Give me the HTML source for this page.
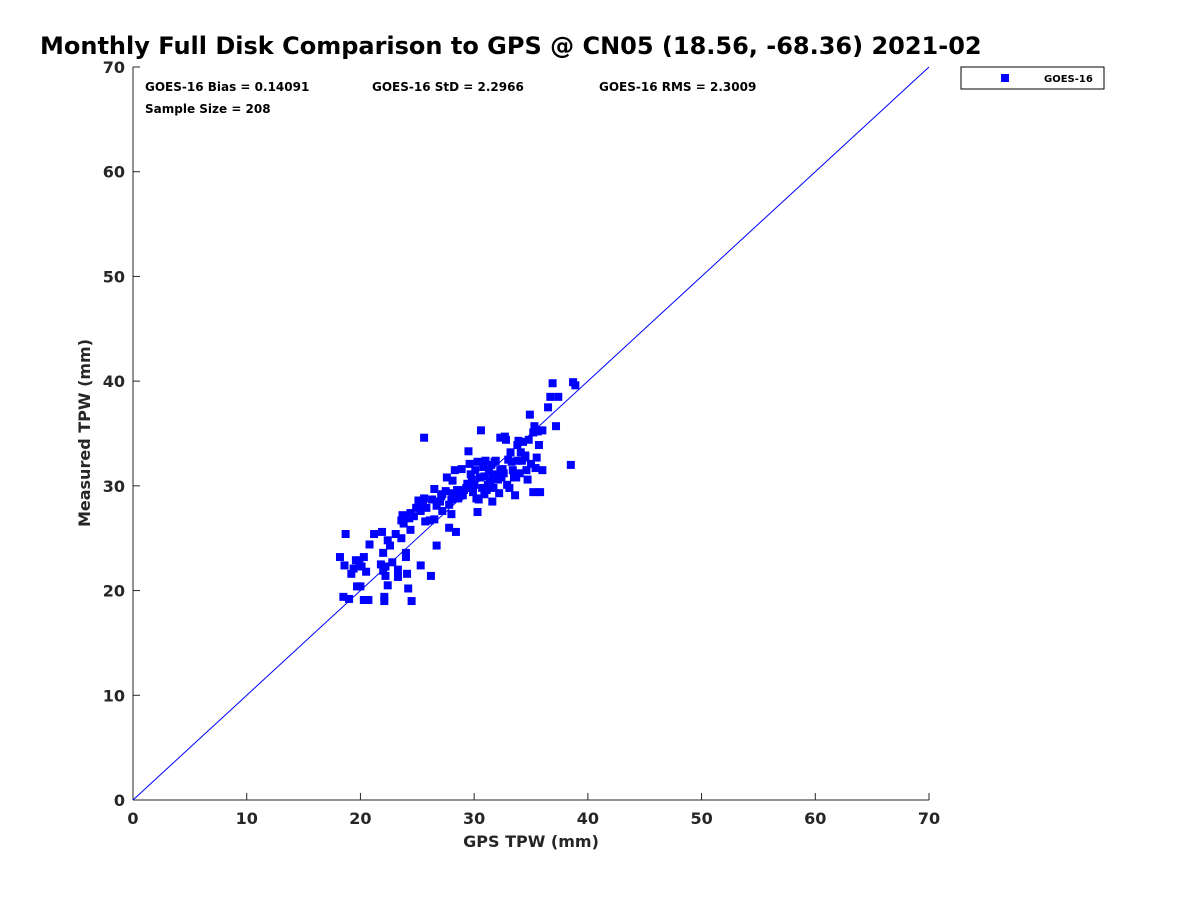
<!DOCTYPE html>
<html><head><meta charset="utf-8"><style>
body{margin:0;background:#fff;font-family:"Liberation Sans",sans-serif}
svg text{font-family:"DejaVu Sans","Liberation Sans",sans-serif}
</style></head><body>
<svg id="chart" width="1200" height="900">
<text x="40" y="54" font-size="24" font-weight="bold">Monthly Full Disk Comparison to GPS @ CN05 (18.56, -68.36) 2021-02</text>
<g id="axes"></g>
<g id="marks"></g>
<text x="145" y="91" font-size="12" font-weight="bold">GOES-16 Bias = 0.14091</text>
<text x="372" y="91" font-size="12" font-weight="bold">GOES-16 StD = 2.2966</text>
<text x="599" y="91" font-size="12" font-weight="bold">GOES-16 RMS = 2.3009</text>
<text x="145" y="113" font-size="12" font-weight="bold">Sample Size = 208</text>
<g>
<rect x="961" y="67" width="143" height="22" fill="#fff" stroke="#000" stroke-width="1"/>
<rect x="1001" y="74" width="8" height="8" fill="#0000ff"/>
<text x="1044" y="82" font-size="10" font-weight="bold">GOES-16</text>
</g>
<text x="531" y="847" font-size="16" font-weight="bold" fill="#262626" text-anchor="middle">GPS TPW (mm)</text>
<text transform="translate(90,433) rotate(-90)" font-size="16" font-weight="bold" fill="#262626" text-anchor="middle">Measured TPW (mm)</text>
</svg>
<script>
const ticks=[0,10,20,30,40,50,60,70];
const gpsX=[18.2,18.7,18.6,18.5,19.0,19.2,19.4,19.6,19.7,19.9,20.0,20.1,20.3,20.3,20.5,20.7,20.8,21.2,21.9,21.8,22.0,22.1,22.1,22.0,22.2,22.2,22.4,22.4,22.6,22.8,23.1,23.3,23.3,23.6,23.6,23.7,23.8,24.0,24.0,24.1,24.2,24.4,24.5,24.3,24.4,24.7,24.9,25.1,25.3,25.3,25.5,25.6,25.6,25.8,25.7,26.1,26.2,26.3,26.5,26.5,26.7,26.7,27.0,27.1,27.2,27.2,27.5,27.6,27.8,27.8,28.0,28.0,28.1,28.1,28.3,28.4,28.5,28.6,28.7,28.9,29.0,29.1,29.3,29.4,29.5,29.6,29.7,29.8,29.9,30.0,30.1,30.2,30.3,30.3,30.4,30.5,30.6,30.7,30.8,30.9,30.9,31.0,31.1,31.2,31.3,31.4,31.5,31.6,31.6,31.7,31.8,31.9,32.0,32.1,32.2,32.3,32.3,32.4,32.5,32.6,32.7,32.8,32.9,33.0,33.1,33.2,33.3,33.4,33.5,33.6,33.7,33.8,33.8,33.9,34.0,34.1,34.2,34.3,34.5,34.5,34.6,34.7,34.8,34.9,35.0,35.2,35.3,35.4,35.2,35.6,35.8,35.5,35.7,36.0,36.0,36.5,36.7,36.9,37.2,37.4,38.5,38.7,38.9];
const tpwY=[23.2,25.4,22.4,19.4,19.2,21.6,22.1,22.9,20.4,22.8,20.4,22.3,23.2,19.1,21.8,19.1,24.4,25.4,25.6,22.5,23.6,19.4,19.0,21.9,21.4,22.3,20.5,24.8,24.3,22.7,25.4,21.3,22.0,25.0,26.7,27.2,26.4,23.6,23.2,21.6,20.2,25.8,19.0,26.9,27.4,27.1,27.9,28.6,22.4,27.6,28.3,34.6,28.8,27.9,26.6,26.7,21.4,28.7,26.8,29.7,24.3,28.1,28.5,29.0,27.6,29.2,29.5,30.8,26.0,28.2,27.3,28.7,29.3,30.5,31.5,25.6,29.6,28.8,29.0,31.6,29.1,29.6,29.8,30.2,33.3,32.1,31.1,30.6,29.4,30.1,31.5,28.8,27.5,32.3,28.7,30.8,35.3,29.8,31.8,29.2,30.9,32.4,29.6,30.1,31.5,30.5,32.0,31.1,28.5,29.8,32.3,32.4,30.9,30.6,29.3,31.5,34.6,30.8,31.6,31.2,34.7,34.4,30.1,32.5,29.8,33.2,32.3,31.5,30.8,29.1,30.8,32.4,33.9,34.3,31.2,33.2,32.4,34.2,32.9,32.7,31.5,30.6,34.4,36.8,32.1,35.1,35.7,31.7,29.4,35.2,29.4,32.7,33.9,35.3,31.5,37.5,38.5,39.8,35.7,38.5,32.0,39.9,39.6];
const x0=133,x1=929,y0=800,y1=67,vmax=70;
const sx=v=>x0+(x1-x0)*v/vmax, sy=v=>y0-(y0-y1)*v/vmax;
const NS="http://www.w3.org/2000/svg";
const axes=document.getElementById('axes'), marks=document.getElementById('marks');
function mk(tag,attrs,parent){const e=document.createElementNS(NS,tag);for(const k in attrs)e.setAttribute(k,attrs[k]);parent.appendChild(e);return e;}
const xl=mk('line',{x1:x0,y1:y0,x2:x1,y2:y0,stroke:'#262626'},axes);


const yl=mk('line',{x1:x0,y1:y0,x2:x0,y2:y1,stroke:'#262626'},axes);


ticks.forEach(t=>{
  mk('line',{x1:sx(t),y1:y0,x2:sx(t),y2:y0-7,stroke:'#262626'},axes);
  mk('line',{x1:x0,y1:sy(t),x2:x0+7,y2:sy(t),stroke:'#262626'},axes);
  const tx=mk('text',{x:sx(t),y:y0+24,'font-size':16,'font-weight':'bold',fill:'#262626','text-anchor':'middle'},axes);
  tx.textContent=t;
  
  
  const ty=mk('text',{x:x0-8,y:sy(t)+6,'font-size':16,'font-weight':'bold',fill:'#262626','text-anchor':'end'},axes);
  ty.textContent=t;
  
  
});
const ref=mk('line',{x1:sx(0),y1:sy(0),x2:sx(70),y2:sy(70),stroke:'#0000ff','stroke-width':1},marks);


gpsX.forEach((v,i)=>{
  const r=mk('rect',{x:sx(v)-4,y:sy(tpwY[i])-4,width:8,height:8,fill:'#0000ff'},marks);
  
  
});
</script>
</body></html>
